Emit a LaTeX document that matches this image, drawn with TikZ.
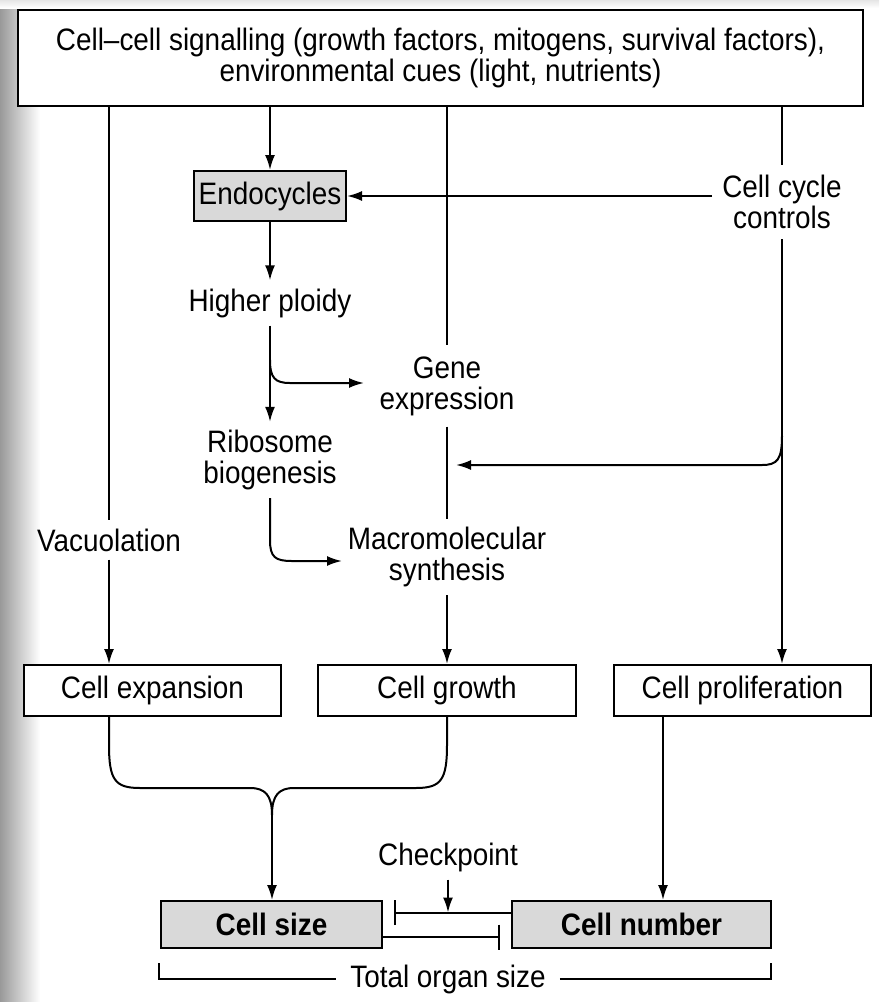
\documentclass[tikz,border=0pt]{standalone}
\usepackage{fontspec}
\setmainfont{Liberation Sans}[FakeStretch=0.9]
\usetikzlibrary{arrows.meta,calc}
\definecolor{cellgray}{HTML}{D9D9D9}
\begin{document}
\begin{tikzpicture}[x=1pt,y=-1pt,
  every node/.style={font=\fontsize{31}{31}\selectfont, align=center},
  ln/.style={line width=2pt},
  arr/.style={ln,-{Latex[length=15pt,width=10pt]}},
  inh/.style={ln,-{Bar[width=25pt,line width=2pt]}},
  boxw/.style={draw,line width=2pt,fill=white,inner sep=0pt},
  boxg/.style={draw,line width=2pt,fill=cellgray,inner sep=0pt},
  lbl/.style={inner sep=8pt}]
\useasboundingbox (0,0) rectangle (879,1002);
\shade[left color=black!40, right color=white] (0,0) rectangle (40,1002);
\shade[top color=black!10, bottom color=white] (0,0) rectangle (879,8);

% nodes
\node[boxw, minimum width=845pt, minimum height=96pt] (top) at (440.5,58)
  {Cell--cell signalling (growth factors, mitogens, survival factors),\\environmental cues (light, nutrients)};
\node[boxg, minimum width=152pt, minimum height=50pt] (endo) at (270,196) {Endocycles};
\node[lbl, inner sep=10pt] (ccc) at (782,202) {Cell cycle\\controls};
\node[lbl] (hp) at (270,303) {Higher ploidy};
\node[lbl, inner sep=11pt] (gene) at (447,386) {Gene\\expression};
\node[lbl] (ribo) at (270,460) {Ribosome\\biogenesis};
\node[lbl] (macro) at (447,557) {Macromolecular\\synthesis};
\node[lbl] (vac) at (109,540) {Vacuolation};
\node[boxw, minimum width=257pt, minimum height=51pt] (exp) at (152.5,690.5) {Cell expansion};
\node[boxw, minimum width=258pt, minimum height=51pt] (grow) at (447,690.5) {Cell growth};
\node[boxw, minimum width=257pt, minimum height=51pt] (prol) at (742.5,690.5) {Cell proliferation};
\node[lbl] (check) at (448,857) {Checkpoint};
\node[boxg, minimum width=221pt, minimum height=47pt, font=\fontsize{31}{31}\selectfont\bfseries] (size) at (271.5,924.5) {Cell size};
\node[boxg, minimum width=259pt, minimum height=47pt, font=\fontsize{31}{31}\selectfont\bfseries] (num) at (641.5,924.5) {Cell number};
\node[inner sep=14pt] (total) at (448,979) {Total organ size};

% coordinates
\coordinate (gb) at (364,383);
\coordinate (mb) at (342,561);
\coordinate (cb) at (456,465);
\coordinate (cs) at (782,436);
\coordinate (hs) at (270,360);
\coordinate (pl) at (663,716);
\coordinate (tl) at (159,963);
\coordinate (tr) at (771,963);
\coordinate (cusp) at (272,815);

% connectors from top box
\draw[ln] (top.south -| vac.north) -- (vac.north);
\draw[arr] (top.south -| endo.north) -- (endo.north);
\draw[ln] (top.south -| gene.north) -- (gene.north);
\draw[ln] (top.south -| ccc.north) -- (ccc.north);

% cell cycle controls
\draw[arr] (ccc.west |- endo.east) -- (endo.east);
\draw[arr] (ccc.south) -- (ccc.south |- prol.north);
\draw[arr] (cs) .. controls (782,460) and (777,465) .. (762,465) -- (cb);

% endocycle chain
\draw[arr] (endo.south) -- (hp.north);
\draw[arr] (hp.south) -- (ribo.north);
\draw[arr] (hs) .. controls (270,378) and (275,383) .. (290,383) -- (gb);
\draw[arr] (ribo.south) -- (270,540) .. controls (270,557) and (275,561) .. (292,561) -- (mb);

% gene expression line
\draw[ln] (gene.south) -- (macro.north);
\draw[arr] (macro.south) -- (grow.north);

% vacuolation
\draw[arr] (vac.south) -- (vac.south |- exp.north);

% brace
\draw[ln] (vac.south |- exp.south) -- (109,745) .. controls (109,780) and (115,788) .. (140,788)
  -- (250,788) .. controls (265,788) and (272,795) .. (cusp);
\draw[ln] (grow.south) -- (447,745) .. controls (447,780) and (441,788) .. (416,788)
  -- (294,788) .. controls (279,788) and (272,795) .. (cusp);
\draw[arr] (cusp) -- (cusp |- size.north);

% proliferation to number
\draw[arr] (pl) -- (pl |- num.north);

% checkpoint and inhibitions
\draw[inh] ($(num.west)+(0,-12)$) -- ($(size.east)+(11,-12)$);
\draw[inh] ($(size.east)+(0,12.5)$) -- ($(num.west)+(-11,12.5)$);
\draw[arr] (check.south) -- ($(check.south |- num.west)+(0,-12)$);

% total organ size bracket
\draw[ln] (tl) -- (tl |- total) -- (total.west);
\draw[ln] (total.east) -- (tr |- total) -- (tr);
\end{tikzpicture}
\end{document}
